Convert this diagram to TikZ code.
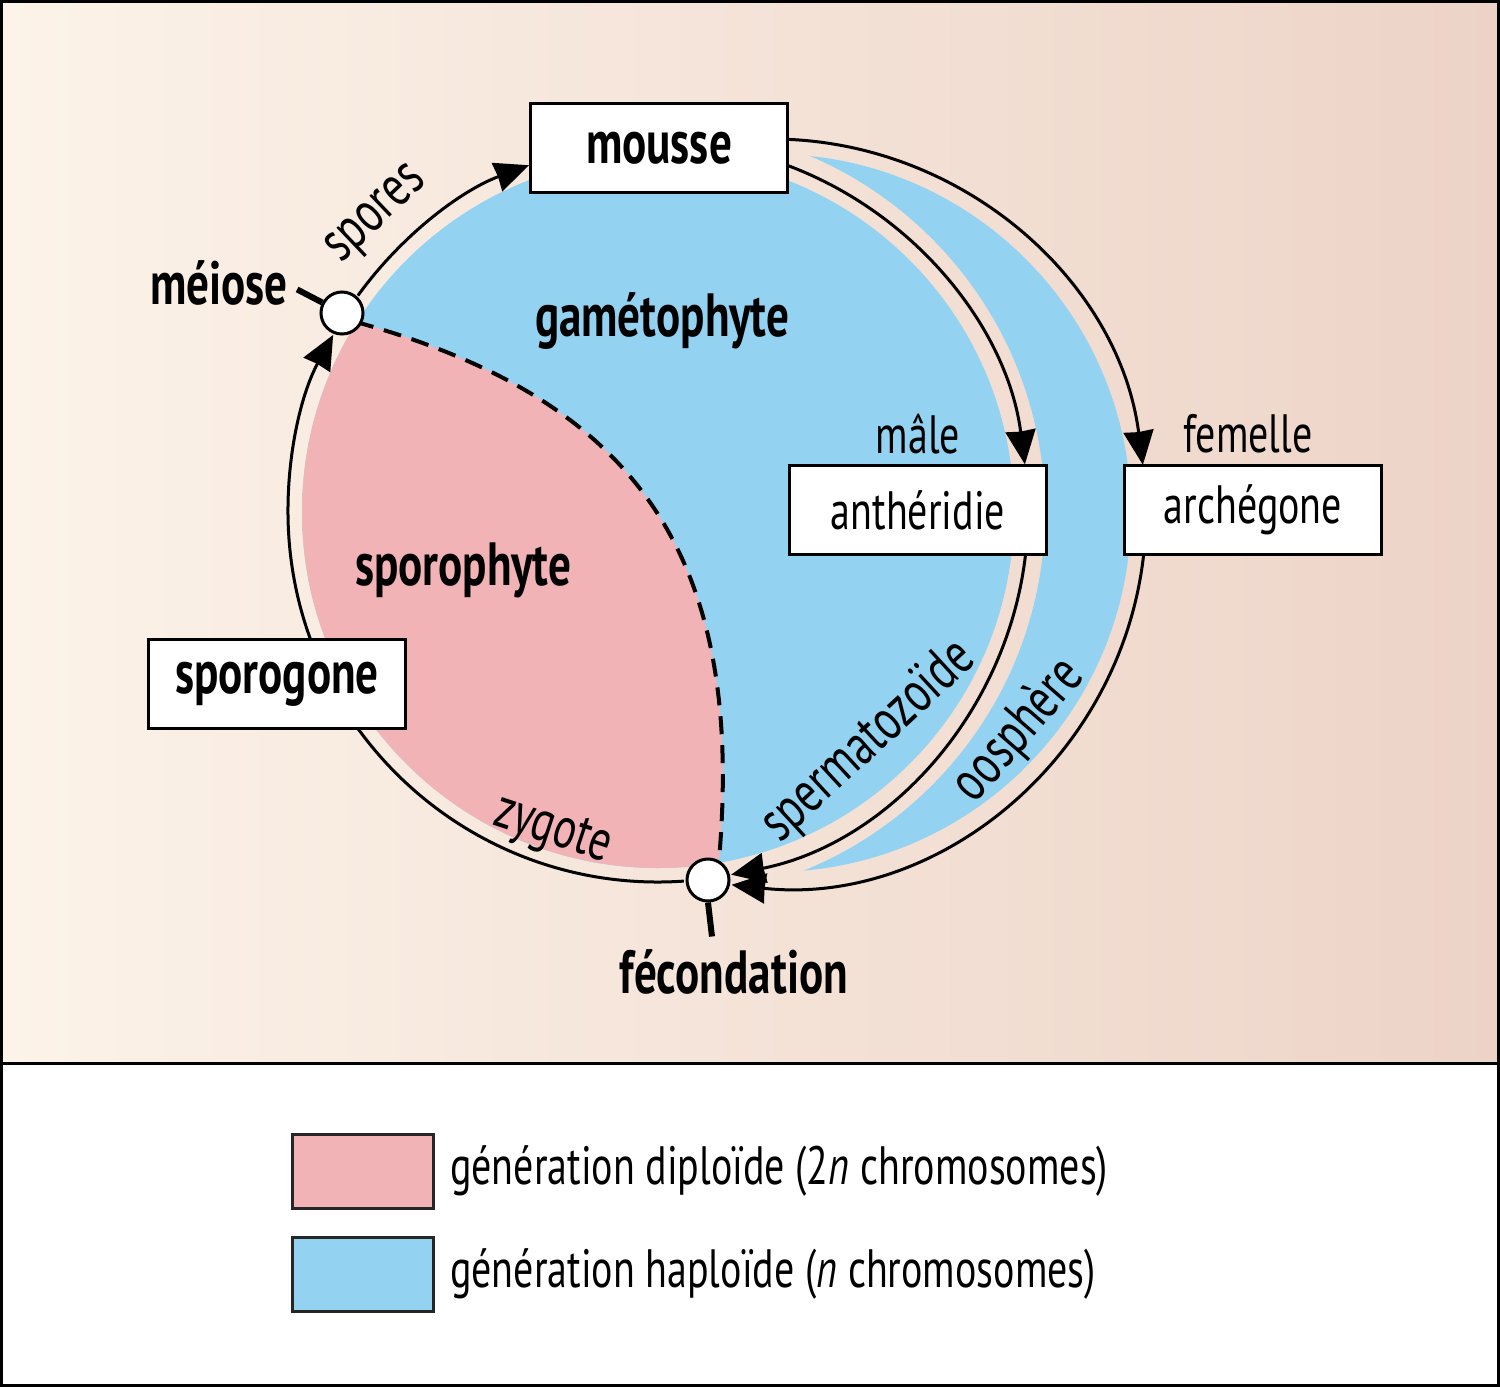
\documentclass[tikz,border=0pt]{standalone}
\usepackage{fontspec}
\setmainfont{PT Sans}[FakeStretch=0.74]
\usetikzlibrary{arrows.meta,calc}

\definecolor{haplo}{HTML}{93D3F1}
\definecolor{diplo}{HTML}{F2B3B7}
\definecolor{creamL}{HTML}{FCF3E9}
\definecolor{creamM}{HTML}{F7E8DD}
\definecolor{creamR}{HTML}{EDD3C7}

\begin{document}
\begin{tikzpicture}[x=1pt,y=-1pt,
    lbl/.style={inner sep=0pt, font=\fontsize{54}{58}\selectfont},
    rlbl/.style={inner sep=0pt, font=\fontsize{58}{62}\selectfont},
    blbl/.style={inner sep=0pt, font=\fontsize{61}{64}\selectfont\bfseries},
    boxnode/.style={draw=black, line width=3pt, fill=white, minimum width=257pt, minimum height=89pt, inner sep=0pt},
    knot/.style={circle, draw=black, line width=3pt, fill=white, minimum size=42pt, inner sep=0pt},
    cyc/.style={line width=3pt, -{Stealth[length=34pt,width=30pt,inset=1pt]}},
    tick/.style={line width=6pt},
    legbox/.style={draw=black!85, line width=3pt, minimum width=141pt, minimum height=74pt, inner sep=0pt}]
    \useasboundingbox (0,0) rectangle (1500,1387);
    % background
    \shade[left color=creamL, middle color=creamM, right color=creamR] (0,0) rectangle (1500,1063);
    \fill[white] (0,1063) rectangle (1500,1387);

    \coordinate (c1) at (658,512);
    \coordinate (c2) at (772,513);

    % haploid fields
    \fill[haplo] (c1) circle[radius=356];
    \begin{scope}
        \clip (c2) circle[radius=359];
        \fill[haplo, even odd rule] (0,0) rectangle (1500,1063) (c1) circle[radius=387];
    \end{scope}

    % diploid field
    \coordinate (dash-s) at (356,322);
    \coordinate (dash-e) at (719,860);
    \begin{scope}
        \clip (c1) circle[radius=356];
        \fill[diplo] (dash-s) .. controls (640,400) and (745,560) .. (dash-e) -- (719,1000) -- (200,1000) -- (200,322) -- cycle;
    \end{scope}
    \draw[line width=4pt, dash pattern=on 18pt off 11pt] (dash-s) .. controls (640,400) and (745,560) .. (dash-e);

    % cycle
    \node[knot] (meiose) at (342,313) {};
    \node[knot] (fecond) at (708,880) {};
    \coordinate (fec-w) at ($(c1)+(86:370)$);
    \coordinate (mei-e) at ($(c1)+(215.8:370)$);
    \coordinate (mou-m) at ($(c1)+(290.6:370)$);
    \coordinate (ant-s) at ($(c1)+(6.8:370)$);
    \coordinate (mou-f) at ($(c2)+(272.5:374)$);
    \coordinate (arc-s) at ($(c2)+(6.4:374)$);
    \draw[cyc] (fec-w) arc[start angle=86, end angle=208.6, radius=370];
    \draw[cyc] (mei-e) arc[start angle=215.8, end angle=249.6, radius=370];
    \draw[cyc] (mou-m) arc[start angle=290.6, end angle=352.6, radius=370];
    \draw[cyc] (ant-s) arc[start angle=6.8, end angle=78.6, radius=370];
    \draw[cyc] (mou-f) arc[start angle=272.5, end angle=352.6, radius=374];
    \draw[cyc] (arc-s) arc[start angle=6.4, end angle=96.2, radius=374];
    \draw[tick] (meiose.152) -- ++(-25,-13);
    \draw[tick] (fecond.south) -- ++(4,34);

    \node[boxnode, font=\fontsize{61}{64}\selectfont\bfseries] (mousse) at (659,148) {mousse};
    \node[boxnode, font=\fontsize{54}{58}\selectfont] (antheridie) at (918,510) {anthéridie};
    \node[boxnode, font=\fontsize{54}{58}\selectfont] (archegone) at (1253,510) {archégone};
    \node[boxnode, font=\fontsize{61}{64}\selectfont\bfseries] (sporogone) at (277,684) {sporogone};

    \node[blbl] (meiose-l) at (219,283) {méiose};
    \node[rlbl, rotate=43.6] (spores-l) at (378,216) {spores};
    \node[blbl] (gameto-l) at (662,321) {gamétophyte};
    \node[blbl] (sporo-l) at (463,570) {sporophyte};
    \node[lbl] (male-l) at (918,434) {mâle};
    \node[lbl] (femelle-l) at (1248,434) {femelle};
    \node[rlbl, rotate=-18.3] (zygote-l) at (552,832) {zygote};
    \node[rlbl, rotate=42.7] (sperm-l) at (869,742) {spermatozoïde};
    \node[rlbl, rotate=49] (oosph-l) at (1019,731) {oosphère};
    \node[blbl] (fecond-l) at (734,972) {fécondation};

    % legend
    \draw[line width=3pt] (0,1063) -- (1500,1063);
    \node[legbox, fill=diplo] (leg-di) at (362.5,1171) {};
    \node[legbox, fill=haplo] (leg-ha) at (362.5,1274) {};
    \node[lbl, anchor=west] (leg-di-l) at (450,1171) {génération diploïde (2\textit{n} chromosomes)};
    \node[lbl, anchor=west] (leg-ha-l) at (450,1274) {génération haploïde (\textit{n} chromosomes)};
    \draw[line width=3pt] (1.5,1.5) rectangle (1498.5,1385.5);
\end{tikzpicture}
\end{document}
